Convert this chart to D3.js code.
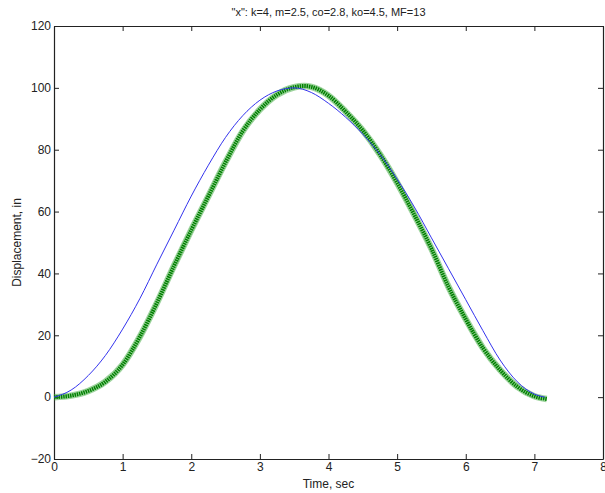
<!DOCTYPE html>
<html>
  <head>
    <meta charset="utf-8">
    <title>Displacement x</title>
    <script src="https://d3js.org/d3.v7.min.js"></script>
    <style>
      body { margin: 0; background: #fff; }
      text { font-family: "Liberation Sans", Arial, sans-serif; fill: #222; }
    </style>
  </head>
  <body>
    <svg id="chart" width="605" height="493"></svg>
    <script>
      // data
      const titleText = '"x": k=4, m=2.5, co=2.8, ko=4.5, MF=13';
      const xTicks = [0, 1, 2, 3, 4, 5, 6, 7, 8];
      const yTicks = [-20, 0, 20, 40, 60, 80, 100, 120];

      const blueT = [0, 0.25, 0.5, 0.75, 1, 1.25, 1.5, 1.75, 2, 2.25, 2.5, 2.75, 3, 3.25, 3.5,
        3.75, 4, 4.25, 4.5, 4.75, 5, 5.25, 5.5, 5.75, 6, 6.25, 6.5, 6.75, 7, 7.15];
      const blueX = [0, 2.3, 7, 13.5, 22, 31.8, 43, 54, 65, 75, 84, 91, 96, 99, 100,
        98.5, 95, 90.5, 85, 78.5, 70.5, 61.5, 51.5, 41.5, 31.5, 21.5, 12, 5, 1, 0];

      const greenT = [0, 0.25, 0.5, 0.75, 1, 1.25, 1.5, 1.75, 2, 2.25, 2.5, 2.75, 3, 3.25, 3.5,
        3.65, 3.75, 4, 4.25, 4.5, 4.75, 5, 5.25, 5.5, 5.75, 6, 6.25, 6.5, 6.75, 7, 7.18];
      const greenX = [0, 0.5, 2.0, 5.0, 10.5, 19.5, 30.5, 42.5, 54, 65, 76, 86, 93, 97.8, 100.2,
        100.6, 100.3, 97.5, 92.3, 86.2, 78.5, 69.3, 59, 48, 35.6, 25.2, 15.9, 8.8, 3.4, 0.3, -0.6];

      const svg = d3.select("#chart");
      const plotL = 54, plotR = 603, plotT = 26, plotB = 459;

      const x = d3.scaleLinear().domain([0, 8]).range([plotL, plotR]);
      const y = d3.scaleLinear().domain([-20, 120]).range([plotB, plotT]);

      // axes (ticks point inward, box all round)
      const tick = 5;
      svg.append("g").attr("transform", `translate(0,${plotB})`)
        .call(d3.axisBottom(x).tickValues(xTicks).tickSizeInner(-tick).tickSizeOuter(0).tickPadding(3));
      svg.append("g").attr("transform", `translate(0,${plotT})`)
        .call(d3.axisTop(x).tickValues(xTicks).tickSizeInner(-tick).tickSizeOuter(0).tickFormat(""));
      svg.append("g").attr("transform", `translate(${plotL},0)`)
        .call(d3.axisLeft(y).tickValues(yTicks).tickSizeInner(-tick).tickSizeOuter(0).tickPadding(3)
          .tickFormat(d => d < 0 ? "\u2212" + Math.abs(d) : d));
      svg.append("g").attr("transform", `translate(${plotR},0)`)
        .call(d3.axisRight(y).tickValues(yTicks).tickSizeInner(-tick).tickSizeOuter(0).tickFormat(""));

      svg.selectAll(".domain").attr("stroke", "#222").attr("stroke-width", 1.2);
      svg.selectAll(".tick line").attr("stroke", "#222");
      svg.selectAll(".tick text").style("font-size", "12px")
        .style("font-family", '"Liberation Sans", Arial, sans-serif').attr("fill", "#222");

      const line = d3.line().curve(d3.curveMonotoneX);

      // green series drawn as a dense band of markers
      const greenPts = greenT.map((t, i) => [x(t), y(greenX[i])]);
      svg.append("path").attr("d", line(greenPts))
        .attr("fill", "none").attr("stroke", "#3aa83a").attr("stroke-width", 6.5).attr("opacity", 0.5);
      svg.append("path").attr("d", line(greenPts))
        .attr("fill", "none").attr("stroke", "#008000").attr("stroke-width", 4)
        .attr("stroke-dasharray", "1.5,0.8");

      // blue series
      const bluePts = blueT.map((t, i) => [x(t), y(blueX[i])]);
      svg.append("path").attr("d", line(bluePts))
        .attr("fill", "none").attr("stroke", "#3333ee").attr("stroke-width", 1);

      // title and labels
      svg.append("text").attr("x", (plotL + plotR) / 2).attr("y", 16)
        .attr("text-anchor", "middle").style("font-size", "11px").text(titleText);
      svg.append("text").attr("x", (plotL + plotR) / 2).attr("y", 488)
        .attr("text-anchor", "middle").style("font-size", "12px").text("Time, sec");
      svg.append("text").attr("transform", `translate(21,${(plotT + plotB) / 2}) rotate(-90)`)
        .attr("text-anchor", "middle").style("font-size", "12px").text("Displacement, in");
    </script>
  </body>
</html>
